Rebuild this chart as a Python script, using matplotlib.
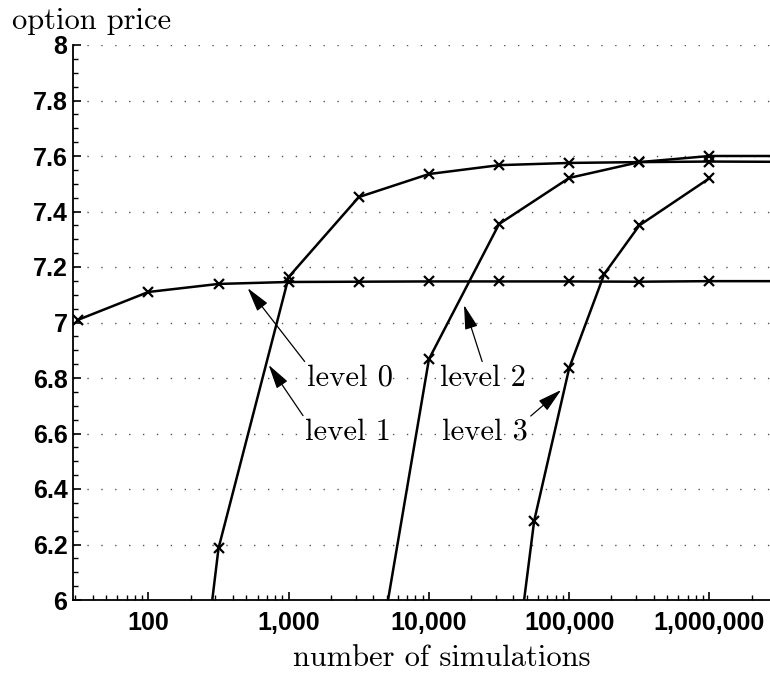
import numpy as np
import matplotlib.pyplot as plt
from matplotlib import font_manager
from matplotlib.ticker import FixedLocator, MultipleLocator, LogLocator, NullFormatter

# number of simulations for each level (half-decade steps)
n_lvl0 = [10**1.5, 1e2, 10**2.5, 1e3, 10**3.5, 1e4, 10**4.5, 1e5, 10**5.5, 1e6, 10**6.5]
p_lvl0 = [7.01, 7.11, 7.139, 7.146, 7.147, 7.148, 7.148, 7.148, 7.147, 7.149, 7.149]

n_lvl1 = [1e2, 10**2.5, 1e3, 10**3.5, 1e4, 10**4.5, 1e5, 10**5.5, 1e6, 10**6.5]
p_lvl1 = [4.1, 6.187, 7.164, 7.452, 7.535, 7.567, 7.575, 7.578, 7.58, 7.579]

n_lvl2 = [10**3.5, 1e4, 10**4.5, 1e5, 10**5.5, 1e6, 10**6.5]
p_lvl2 = [5.38, 6.868, 7.355, 7.521, 7.578, 7.60, 7.60]

n_lvl3 = [10**4.5, 10**4.75, 1e5, 10**5.25, 10**5.5, 1e6]
p_lvl3 = [5.29, 6.285, 6.836, 7.175, 7.35, 7.52]

xticks = [100, 1000, 10000, 100000, 1000000]
xticklabels = ['100', '1,000', '10,000', '100,000', '1,000,000']
yticks = [6, 6.2, 6.4, 6.6, 6.8, 7, 7.2, 7.4, 7.6, 7.8, 8]
yticklabels = ['6', '6.2', '6.4', '6.6', '6.8', '7', '7.2', '7.4', '7.6', '7.8', '8']

serif = 'cmr10'

# plain (not narrow) Liberation Sans Bold for the tick labels
bold_file = None
for f in font_manager.fontManager.ttflist:
    if f.name == 'Liberation Sans' and f.weight in (700, 'bold') and f.style == 'normal':
        bold_file = f.fname
if bold_file:
    tick_font = font_manager.FontProperties(fname=bold_file, size=18)
else:
    tick_font = font_manager.FontProperties(family='DejaVu Sans', weight='bold', size=16)

fig = plt.figure(figsize=(7.7, 6.75), dpi=100)
ax = fig.add_axes([73 / 770, 75 / 675, 1 - 73 / 770, 555 / 675])

for n, p in [(n_lvl0, p_lvl0), (n_lvl1, p_lvl1), (n_lvl2, p_lvl2), (n_lvl3, p_lvl3)]:
    ax.plot(n, p, color='black', lw=1.8, marker='x', ms=7, mew=1.6)

ax.set_xscale('log')
ax.set_xlim(29, 2.7e6)
ax.set_ylim(6, 8)

ax.xaxis.set_major_locator(FixedLocator(xticks))
ax.set_xticklabels(xticklabels)
ax.xaxis.set_minor_locator(LogLocator(base=10, subs=np.arange(2, 10)))
ax.xaxis.set_minor_formatter(NullFormatter())
ax.set_yticks(yticks)
ax.set_yticklabels(yticklabels)
ax.yaxis.set_minor_locator(MultipleLocator(0.05))

for lab in ax.get_xticklabels() + ax.get_yticklabels():
    lab.set_fontproperties(tick_font)

ax.tick_params(which='both', direction='in', color='black')
ax.tick_params(which='major', length=6, width=1.2)
ax.tick_params(which='minor', length=3.5, width=1.0)
ax.tick_params(axis='x', pad=8)
ax.tick_params(axis='y', pad=4)

for s in ['top', 'right']:
    ax.spines[s].set_visible(False)
for s in ['left', 'bottom']:
    ax.spines[s].set_linewidth(1.3)

ax.yaxis.grid(True, which='major', linestyle=(0, (1, 9)), color='#555555', lw=1.0)
ax.set_axisbelow(True)

ax.set_xlabel('number of simulations', fontfamily=serif, fontsize=22, labelpad=7)
ax.xaxis.label.set_x(0.529)
fig.text(12 / 770, 1 - 29 / 675, 'option price', fontfamily=serif, fontsize=22,
         ha='left', va='baseline')

# label, arrow tip, text centre, where the arrow leaves the text box
ann = [('level 0', (510, 7.124), (2728, 6.80), (0, 1)),
       ('level 1', (720, 6.847), (2640, 6.605), (0, 1)),
       ('level 2', (17780, 7.063), (24300, 6.80), (0.5, 1)),
       ('level 3', (87700, 6.757), (25100, 6.605), (1, 1))]
for txt, tip, pos, rel in ann:
    ax.annotate(txt, xy=tip, xytext=pos, fontfamily=serif, fontsize=22,
                ha='center', va='center',
                arrowprops=dict(arrowstyle='-|>,head_length=1.5,head_width=0.4',
                                mutation_scale=10, color='black', lw=0.9,
                                shrinkA=0, shrinkB=0, relpos=rel))

fig.savefig('out.png', dpi=100)
